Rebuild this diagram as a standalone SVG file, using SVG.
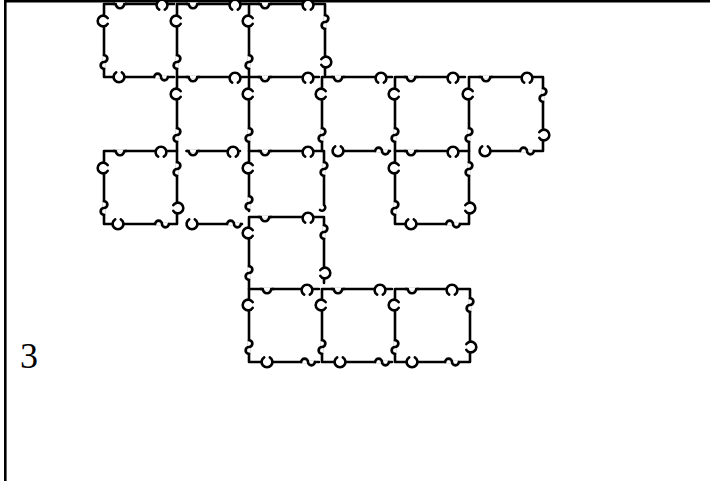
<svg xmlns="http://www.w3.org/2000/svg" xmlns:xlink="http://www.w3.org/1999/xlink" width="710" height="481" viewBox="0 0 710 481">
<style>
.s{fill:none;stroke:#000;stroke-width:2.6;stroke-linecap:round;stroke-linejoin:round}
.b{fill:none;stroke:#000;stroke-width:2.6}
.t{font-family:"Liberation Serif","Times New Roman",serif;font-size:36px;fill:#000}
</style>
<defs>
<g id="ring"><circle r="5.5" fill="#fff"/><path d="M-2.8 4.7A5.4 5.4 0 1 1 2.8 4.7" class="s"/></g>
<g id="notch"><rect x="-5" y="-1.6" width="10" height="3.2" fill="#fff"/><path d="M-6.5 0H-4.2A4.2 4.2 0 0 0 4.2 0H6.5" class="s"/></g>
<g id="sq"><rect x="-6" y="-1.6" width="12" height="3.2" fill="#fff"/><path d="M-6.8 0A3.4 3.4 0 0 1 0 0A3.4 3.4 0 0 0 6.8 0" class="s"/></g>
</defs>
<rect width="710" height="481" fill="#fff"/>
<path class="b" d="M4 1.2H710M5.3 0V481"/>
<text class="t" x="20" y="368">3</text>

<g id="boxA">
<path class="s" d="M174 4H104V77H174"/>
<use xlink:href="#notch" transform="translate(120,4)"/>
<use xlink:href="#ring" transform="translate(162,5)"/>
<use xlink:href="#ring" transform="translate(103,21) rotate(-90)"/>
<use xlink:href="#sq" transform="translate(104,62) rotate(-90)"/>
<use xlink:href="#ring" transform="translate(119,77) rotate(180)"/>
<use xlink:href="#sq" transform="translate(161,77) rotate(180)"/>
</g>
<g id="boxB">
<path class="s" d="M247 4H177V77"/>
<use xlink:href="#notch" transform="translate(193,4)"/>
<use xlink:href="#ring" transform="translate(235,5)"/>
<use xlink:href="#ring" transform="translate(176,21) rotate(-90)"/>
<use xlink:href="#sq" transform="translate(177,62) rotate(-90)"/>
</g>
<g id="boxC">
<path class="s" d="M249 77V4H325V75"/>
<use xlink:href="#notch" transform="translate(265,4)"/>
<use xlink:href="#ring" transform="translate(308,5)"/>
<use xlink:href="#ring" transform="translate(248,21) rotate(-90)"/>
<use xlink:href="#sq" transform="translate(249,62) rotate(-90)"/>
<use xlink:href="#sq" transform="translate(325,22) rotate(90)"/>
<use xlink:href="#ring" transform="translate(326,62) rotate(90)"/>
</g>

<g id="boxD">
<path class="s" d="M247 77H177V151"/>
<use xlink:href="#notch" transform="translate(193,77)"/>
<use xlink:href="#ring" transform="translate(235,78)"/>
<use xlink:href="#ring" transform="translate(176,94) rotate(-90)"/>
<use xlink:href="#sq" transform="translate(177,135) rotate(-90)"/>
</g>
<g id="boxE">
<path class="s" d="M319 77H249V151"/>
<use xlink:href="#notch" transform="translate(265,77)"/>
<use xlink:href="#ring" transform="translate(308,78)"/>
<use xlink:href="#ring" transform="translate(248,94) rotate(-90)"/>
<use xlink:href="#sq" transform="translate(249,135) rotate(-90)"/>
</g>
<g id="boxF">
<path class="s" d="M392 77H322V151M333 151H390"/>
<use xlink:href="#notch" transform="translate(338,77)"/>
<use xlink:href="#ring" transform="translate(381,78)"/>
<use xlink:href="#ring" transform="translate(321,94) rotate(-90)"/>
<use xlink:href="#sq" transform="translate(322,135) rotate(-90)"/>
<use xlink:href="#ring" transform="translate(338,151) rotate(180)"/>
<use xlink:href="#sq" transform="translate(382,151) rotate(180)"/>
</g>
<g id="boxG">
<path class="s" d="M465 77H395V151"/>
<use xlink:href="#notch" transform="translate(411,77)"/>
<use xlink:href="#ring" transform="translate(453,78)"/>
<use xlink:href="#ring" transform="translate(394,94) rotate(-90)"/>
<use xlink:href="#sq" transform="translate(395,135) rotate(-90)"/>
</g>
<g id="boxH">
<path class="s" d="M469 151V77H543V151H480"/>
<use xlink:href="#notch" transform="translate(486,77)"/>
<use xlink:href="#ring" transform="translate(527,78)"/>
<use xlink:href="#ring" transform="translate(468,94) rotate(-90)"/>
<use xlink:href="#sq" transform="translate(469,135) rotate(-90)"/>
<use xlink:href="#sq" transform="translate(543,95) rotate(90)"/>
<use xlink:href="#ring" transform="translate(544,135) rotate(90)"/>
<use xlink:href="#ring" transform="translate(485,151) rotate(180)"/>
<use xlink:href="#sq" transform="translate(527,151) rotate(180)"/>
</g>

<g id="boxI">
<path class="s" d="M104 151H177V224H104Z"/>
<use xlink:href="#notch" transform="translate(120,151)"/>
<use xlink:href="#ring" transform="translate(161,152)"/>
<use xlink:href="#ring" transform="translate(103,168) rotate(-90)"/>
<use xlink:href="#sq" transform="translate(104,208) rotate(-90)"/>
<use xlink:href="#sq" transform="translate(177,169) rotate(90)"/>
<use xlink:href="#ring" transform="translate(178,208) rotate(90)"/>
<use xlink:href="#ring" transform="translate(118,224) rotate(180)"/>
<use xlink:href="#sq" transform="translate(162,224) rotate(180)"/>
</g>
<g id="boxJ">
<path class="s" d="M187 151H240M187 224H242"/>
<use xlink:href="#notch" transform="translate(193,151)"/>
<use xlink:href="#ring" transform="translate(233,152)"/>
<use xlink:href="#ring" transform="translate(192,224) rotate(180)"/>
<use xlink:href="#sq" transform="translate(234,224) rotate(180)"/>
</g>
<g id="boxK">
<path class="s" d="M249 211V151H324V205A3 3 0 0 1 320 210"/>
<use xlink:href="#notch" transform="translate(265,151)"/>
<use xlink:href="#ring" transform="translate(308,152)"/>
<use xlink:href="#ring" transform="translate(248,168) rotate(-90)"/>
<use xlink:href="#sq" transform="translate(249,203) rotate(-90)"/>
<use xlink:href="#sq" transform="translate(324,169) rotate(90)"/>
</g>
<g id="boxM">
<path class="s" d="M395 151H469V224H395Z"/>
<use xlink:href="#notch" transform="translate(411,151)"/>
<use xlink:href="#ring" transform="translate(453,152)"/>
<use xlink:href="#ring" transform="translate(394,168) rotate(-90)"/>
<use xlink:href="#sq" transform="translate(395,208) rotate(-90)"/>
<use xlink:href="#sq" transform="translate(469,169) rotate(90)"/>
<use xlink:href="#ring" transform="translate(470,208) rotate(90)"/>
<use xlink:href="#ring" transform="translate(411,224) rotate(180)"/>
<use xlink:href="#sq" transform="translate(453,224) rotate(180)"/>
</g>

<g id="boxN">
<path class="s" d="M249 289V217H324V283"/>
<use xlink:href="#notch" transform="translate(265,217)"/>
<use xlink:href="#ring" transform="translate(308,218)"/>
<use xlink:href="#ring" transform="translate(248,233) rotate(-90)"/>
<use xlink:href="#sq" transform="translate(249,273) rotate(-90)"/>
<use xlink:href="#sq" transform="translate(324,232) rotate(90)"/>
<use xlink:href="#ring" transform="translate(325,273) rotate(90)"/>
</g>

<g id="boxP">
<path class="s" d="M319 289H249V362H319"/>
<use xlink:href="#notch" transform="translate(267,289)"/>
<use xlink:href="#ring" transform="translate(307,290)"/>
<use xlink:href="#ring" transform="translate(248,305) rotate(-90)"/>
<use xlink:href="#sq" transform="translate(249,347) rotate(-90)"/>
<use xlink:href="#ring" transform="translate(267,362) rotate(180)"/>
<use xlink:href="#sq" transform="translate(308,362) rotate(180)"/>
</g>
<g id="boxQ">
<path class="s" d="M392 289H322V362H392"/>
<use xlink:href="#notch" transform="translate(338,289)"/>
<use xlink:href="#ring" transform="translate(380,290)"/>
<use xlink:href="#ring" transform="translate(321,305) rotate(-90)"/>
<use xlink:href="#sq" transform="translate(322,347) rotate(-90)"/>
<use xlink:href="#ring" transform="translate(340,362) rotate(180)"/>
<use xlink:href="#sq" transform="translate(382,362) rotate(180)"/>
</g>
<g id="boxR">
<path class="s" d="M395 289H470V362H395Z"/>
<use xlink:href="#notch" transform="translate(412,289)"/>
<use xlink:href="#ring" transform="translate(452,290)"/>
<use xlink:href="#ring" transform="translate(394,305) rotate(-90)"/>
<use xlink:href="#sq" transform="translate(395,347) rotate(-90)"/>
<use xlink:href="#sq" transform="translate(470,305) rotate(90)"/>
<use xlink:href="#ring" transform="translate(471,347) rotate(90)"/>
<use xlink:href="#ring" transform="translate(412,362) rotate(180)"/>
<use xlink:href="#sq" transform="translate(452,362) rotate(180)"/>
</g>
</svg>
